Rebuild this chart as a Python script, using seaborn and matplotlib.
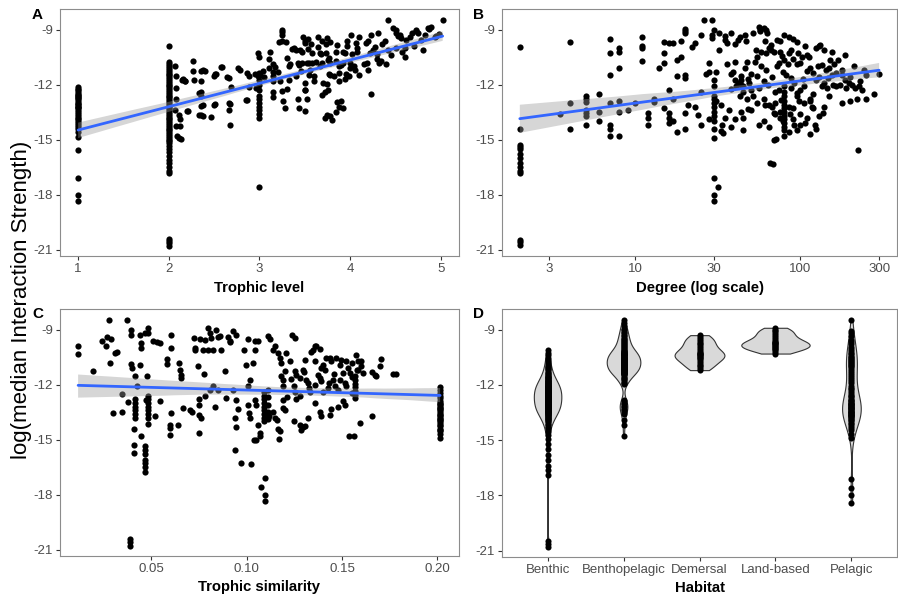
import matplotlib
matplotlib.use("Agg")
import matplotlib.pyplot as plt
from matplotlib.collections import PolyCollection
from matplotlib.ticker import NullLocator
import numpy as np
import pandas as pd
import seaborn as sns

# ---------------- DATA ----------------
# Panel A: trophic level vs log(median interaction strength)
tl1_strength = [-12.15, -12.25, -12.3, -12.4, -12.5, -12.55, -12.6, -12.7, -12.75, -12.8, -12.9,
                -13.0, -13.05, -13.1, -13.2, -13.25, -13.3, -13.4, -13.5, -13.6, -13.7, -13.8,
                -13.9, -14.0, -14.1, -14.2, -14.3, -14.45, -14.6, -14.85, -15.55, -17.1, -18.0,
                -18.35]
tl2_strength = [-9.9, -10.75, -10.9, -11.0, -11.1, -11.2, -11.3, -11.4, -11.5, -11.6, -11.7, -11.8,
                -11.9, -12.0, -12.1, -12.2, -12.3, -12.4, -12.5, -12.6, -12.7, -12.8, -12.9, -13.0,
                -13.1, -13.2, -13.3, -13.4, -13.5, -13.6, -13.7, -13.8, -13.9, -14.0, -14.1, -14.2,
                -14.3, -14.4, -14.5, -14.6, -14.7, -14.8, -14.9, -15.0, -15.1, -15.2, -15.35, -15.5,
                -15.7, -15.9, -16.1, -16.3, -16.5, -16.7, -16.85, -20.45, -20.55, -20.65, -20.8]
tl3_strength = [-11.74, -12.0, -12.3, -12.6, -12.8, -13.0, -13.2, -13.4, -13.6, -13.8, -17.59]
tl_other = [
    (2.07, -10.98), (2.08, -11.52), (2.08, -12.19), (2.08, -12.79), (2.07, -13.37), (2.11, -13.64),
    (2.12, -13.9), (2.08, -14.27), (2.12, -14.27), (2.09, -14.8), (2.13, -14.95), (2.14, -11.74),
    (2.18, -11.8), (2.21, -13.46), (2.16, -11.72), (2.27, -10.69), (2.27, -11.28), (2.28, -11.77),
    (2.33, -12.46), (2.36, -12.64), (2.36, -11.25), (2.4, -11.25), (2.36, -11.83), (2.36, -13.19),
    (2.36, -13.64), (2.38, -13.73), (2.47, -13.77), (2.5, -11.55), (2.52, -11.41), (2.5, -13.1),
    (2.57, -11.07), (2.64, -11.6), (2.66, -11.65), (2.66, -13.0), (2.66, -13.37), (2.67, -14.18),
    (2.69, -12.14), (2.76, -11.1), (2.79, -11.19), (2.86, -11.37), (2.88, -11.52), (2.86, -12.82),
    (2.88, -12.15), (2.98, -10.3), (2.99, -10.48), (2.98, -11.55), (3.0, -11.37), (3.04, -11.28),
    (2.38, -11.19), (2.59, -11.07), (2.51, -11.4), (2.18, -11.83), (2.35, -12.4), (2.38, -13.13),
    (2.51, -13.08), (2.67, -13.06), (2.33, -13.64), (2.2, -13.46), (2.11, -14.9), (2.85, -12.82),
    (2.95, -11.4), (2.96, -12.2), (3.01, -11.46), (3.05, -11.6),
    (3.1, -11.1), (3.15, -10.9), (3.17, -11.05), (3.15, -11.3), (3.15, -11.55), (3.15, -11.8),
    (3.15, -12.4), (3.15, -12.7), (3.25, -9.0), (3.25, -9.15), (3.25, -9.3), (3.22, -9.7),
    (3.25, -9.65), (3.29, -9.7), (3.23, -11.8), (3.25, -12.37), (3.26, -12.9), (3.28, -13.3),
    (3.3, -12.25), (3.32, -11.75), (3.33, -11.0), (3.38, -10.0), (3.4, -11.55), (3.42, -10.8),
    (3.44, -10.95), (3.42, -12.8), (3.44, -13.28), (3.45, -10.1), (3.46, -11.28), (3.48, -9.4),
    (3.5, -9.75), (3.5, -12.28), (3.5, -13.46), (3.52, -12.8), (3.53, -9.5), (3.55, -10.83),
    (3.58, -10.3), (3.6, -11.55), (3.65, -9.38), (3.65, -9.93), (3.67, -10.3), (3.67, -11.0),
    (3.69, -12.55), (3.7, -11.92), (3.72, -13.82), (3.74, -13.64), (3.74, -9.47), (3.76, -10.65),
    (3.78, -11.46), (3.86, -9.83), (3.88, -11.83), (3.9, -12.9), (3.92, -13.3), (3.9, -10.92),
    (3.94, -10.29), (3.97, -9.92), (3.99, -11.56), (4.01, -9.3), (4.05, -11.2), (4.08, -10.2),
    (4.1, -9.38), (4.17, -9.74), (4.23, -9.3), (4.23, -12.5), (4.25, -10.1), (4.31, -9.2),
    (4.34, -10.74), (4.38, -9.65), (4.42, -8.5), (4.42, -10.1), (4.47, -8.93), (4.51, -9.2),
    (4.55, -9.3), (4.57, -10.2), (4.62, -9.56), (4.68, -9.2), (4.73, -9.1), (4.78, -9.56),
    (4.86, -8.93), (4.93, -9.38), (5.02, -8.47),
    (3.36, -10.05), (3.4, -10.1), (3.47, -10.2), (3.53, -10.05), (3.34, -10.9), (3.47, -10.8),
    (3.52, -10.85), (3.58, -10.8), (3.62, -10.75), (3.5, -9.6), (3.57, -9.8), (3.55, -11.5),
    (3.56, -11.2), (3.5, -11.9), (3.5, -12.3), (3.6, -11.8), (3.69, -9.6), (3.73, -9.8),
    (3.78, -9.7), (3.68, -10.35), (3.73, -10.3), (3.77, -10.55), (3.84, -10.2), (3.92, -10.2),
    (3.69, -10.85), (3.78, -10.85), (3.84, -10.7), (3.88, -11.0), (3.92, -10.85), (3.77, -11.4),
    (3.82, -11.55), (3.88, -11.35), (3.94, -11.7), (3.74, -11.95), (3.75, -12.3), (3.72, -12.4),
    (3.86, -12.95), (3.88, -13.2), (3.84, -13.5), (3.78, -13.7), (3.8, -13.95), (3.97, -9.6),
    (4.06, -9.75), (4.08, -10.0), (4.02, -10.35), (4.0, -10.8), (4.04, -11.0), (4.0, -11.1),
    (3.95, -11.45), (4.2, -9.6), (4.27, -9.95), (4.22, -10.3), (4.19, -10.8), (4.3, -10.35),
    (4.32, -10.8), (4.35, -9.8), (4.5, -9.0), (4.53, -9.35), (4.56, -9.45), (4.6, -10.0),
    (4.66, -9.4), (4.73, -9.0), (4.75, -9.2), (4.82, -9.3), (4.87, -8.95), (4.89, -8.85),
    (4.98, -9.25), (4.95, -9.35), (3.1, -10.6), (3.12, -10.2), (3.2, -11.3), (3.3, -10.55),
    (4.3, -10.6), (4.4, -10.9), (4.45, -10.4), (4.6, -10.5), (4.2, -11.2), (4.1, -11.5),
    (4.15, -10.9), (4.5, -10.0), (4.7, -9.9), (4.8, -10.1)]

# Panel B: degree (log scale) vs strength
degree_points = [
    (2, -9.95), (2, -14.45), (2, -15.3), (2, -15.4), (2, -15.5), (2, -15.8), (2, -16.0), (2, -16.3),
    (2, -16.5), (2, -16.7), (2, -16.8), (2, -20.5), (2, -20.6), (2, -20.75),
    (4, -9.7), (4, -13.0), (5, -12.6), (5, -12.8), (5, -12.95), (5, -13.4), (5, -13.55), (5, -13.7),
    (5, -14.2), (6, -12.5), (6, -13.5), (7, -9.5), (7, -10.3), (7, -11.5), (7, -13.0), (7, -14.2),
    (7, -14.4), (7, -14.8), (8, -10.0), (8, -10.2), (8, -11.1), (8, -12.9), (8, -13.5), (8, -14.8),
    (10, -13.0), (11, -9.4), (11, -9.9), (11, -10.0), (11, -10.7), (13, -12.8), (13, -12.95),
    (12, -13.55), (12, -13.8), (14, -11.1), (15, -10.3), (15, -10.8), (15, -9.7), (16, -9.75),
    (16, -12.3), (16, -13.55), (16, -14.1), (16, -13.8), (17, -12.8), (17, -9.75), (18, -11.55),
    (18, -14.6), (18, -10.65), (19, -9.6), (19, -10.5), (20, -13.55), (20, -11.5), (20, -11.65),
    (20, -8.95), (20, -9.1), (20, -9.2), (21, -13.1), (22, -9.93), (23, -9.75), (23, -13.2),
    (24, -13.65), (25, -12.4), (26, -8.5), (25, -9.3), (27, -11.45), (28, -10.85), (28, -11.3),
    (29, -8.5), (29, -9.3), (29, -9.45), (30, -9.0), (30, -12.6), (30, -12.8), (30, -13.0),
    (30, -13.2), (30, -13.5), (30, -13.7), (30, -14.4), (30, -14.9), (30, -17.1), (30, -18.0),
    (30, -18.35), (31.5, -17.6), (31, -11.3), (30, -11.75), (30, -12.1), (31, -12.9), (32, -9.2),
    (32, -10.1), (33, -14.55), (34, -14.65), (33.5, -14.2), (33, -13.1), (35, -9.35), (35, -9.55),
    (36, -9.75), (37, -13.37), (38, -11.4), (38, -12.25), (40, -10.75), (40, -11.75), (41, -12.1),
    (42, -9.55), (43, -12.65), (43, -9.4), (44, -13.5), (45, -13.8), (44, -11.55), (44, -11.75),
    (44, -12.0), (45, -12.1), (46, -11.1), (46, -9.3), (47.6, -12.8), (47.6, -10.75), (48, -13.36),
    (49, -11.9), (50, -11.45), (52, -9.2), (53, -10.75), (54, -10.1), (56, -14.2), (55, -11.55),
    (56, -12.2), (56, -8.85), (57, -9.0), (57, -9.1), (58, -10.2), (60, -12.8), (61, -13.1),
    (61, -9.65), (62, -11.2), (63, -9.2), (64, -12.0), (66, -9.83), (66, -10.1), (67, -13.2),
    (69, -13.55), (69, -15.0), (71, -14.95), (65.5, -16.3), (68, -16.35), (69, -10.2), (72, -9.55),
    (74, -10.83), (74, -12.28), (75, -13.82), (76, -12.82), (77, -10.45), (80, -10.65),
    (80, -12.1), (80, -12.4), (80, -12.6), (80, -12.9), (80, -13.1), (80, -13.3), (80, -13.5),
    (80, -13.7), (80, -13.9), (80, -14.1), (80, -14.3), (80, -14.5), (80, -14.8),
    (80, -9.3), (85, -9.4), (82, -11.47), (85, -13.2), (87, -13.6), (88, -11.65), (88, -10.1),
    (92, -14.2), (95, -12.46), (100, -10.83), (102, -10.5), (105, -12.1), (107, -9.92),
    (107, -14.1), (110, -11.28), (114, -12.8), (115, -14.7), (117, -13.2), (120, -11.37),
    (125, -11.73), (122, -14.2), (125, -14.4), (132, -9.83), (135, -10.92), (135, -12.1),
    (137, -13.55), (140, -10.1), (144, -11.2), (148, -11.65), (152, -10.65), (157, -12.0),
    (165, -11.37), (170, -10.65), (178, -11.46), (186, -11.75), (187, -10.38), (198, -11.92),
    (210, -11.0), (219, -12.8), (223, -15.58), (228, -12.1), (242, -11.2), (300, -11.4),
    (36, -10.9), (39, -11.3), (42, -11.9), (45, -12.4), (48, -11.7), (50, -12.3), (52, -12.6),
    (55, -10.5), (58, -11.0), (60, -11.8), (62, -10.3), (65, -10.0), (67, -11.6), (70, -12.4),
    (72, -11.0), (75, -10.2), (78, -11.3), (84, -10.9), (90, -10.6), (92, -11.9), (95, -10.9),
    (98, -12.9), (100, -12.3), (104, -11.7), (110, -10.4), (115, -11.1), (120, -12.5),
    (128, -11.0), (130, -11.6), (140, -11.9), (145, -12.2), (150, -11.1), (155, -11.5),
    (160, -10.9), (165, -12.1), (175, -12.0), (180, -11.2), (190, -12.2), (200, -11.6),
    (205, -12.0), (215, -12.2), (235, -12.3), (250, -11.5), (230, -11.8), (95, -12.6),
    (88, -12.2), (70, -13.0), (65, -13.1), (75, -13.5), (90, -13.9), (100, -14.2), (95, -14.5),
    (110, -13.8), (130, -13.7), (120, -13.3), (38, -9.2), (40, -9.8), (47, -9.6), (60, -8.9),
    (62, -9.05), (75, -9.6), (85, -10.3), (90, -9.5), (95, -9.7), (97, -10.3), (113, -10.5),
    (125, -10.0), (130, -9.9), (155, -10.2),
    (15, -13.3), (17, -14.0), (20, -14.4), (12, -14.2), (9, -13.4), (6, -14.0), (4, -14.4),
    (3.5, -13.6), (40, -13.9), (50, -13.4), (55, -13.0), (60, -14.0), (65, -14.3), (78, -14.0),
    (85, -14.6), (100, -13.6), (105, -13.0), (115, -12.9), (140, -13.2), (150, -12.6),
    (35, -13.8), (28, -13.9), (25, -14.2), (45, -14.5), (90, -13.3), (70, -13.6),
    (250, -12.8), (280, -12.5), (180, -13.0), (200, -12.9), (30, -14.0), (38, -14.3)]

# Panel C: trophic similarity vs strength
similarity_points = [
    (0.0115, -9.92), (0.0115, -10.32), (0.0194, -11.25), (0.024, -9.65), (0.026, -9.92),
    (0.0265, -9.38), (0.029, -9.53), (0.0277, -8.5), (0.028, -10.83), (0.031, -10.29),
    (0.032, -10.25), (0.030, -13.55), (0.0348, -13.5), (0.0348, -12.5), (0.0369, -8.47),
    (0.0378, -12.97), (0.0386, -20.43), (0.0386, -20.6), (0.0386, -20.8), (0.039, -9.0),
    (0.0393, -9.3), (0.0395, -10.9), (0.040, -11.1), (0.0413, -11.55),
    (0.0413, -12.8), (0.0413, -13.0), (0.0413, -13.2), (0.0413, -13.4), (0.0413, -13.6),
    (0.0413, -13.8), (0.041, -14.45), (0.041, -15.27), (0.041, -15.76), (0.0425, -12.06),
    (0.044, -9.3), (0.0445, -9.74), (0.0445, -10.0), (0.044, -10.93), (0.0443, -14.82),
    (0.0465, -9.2), (0.048, -9.2), (0.048, -8.93), (0.0474, -11.55), (0.047, -12.82),
    (0.0468, -15.36), (0.0468, -15.55), (0.0468, -15.8), (0.0468, -16.1), (0.0468, -16.3),
    (0.0468, -16.5), (0.0468, -16.75),
    (0.0483, -12.6), (0.0483, -12.8), (0.0483, -13.0), (0.0483, -13.2), (0.0483, -13.4),
    (0.0483, -13.6), (0.0483, -13.85), (0.0483, -14.15),
    (0.051, -9.65), (0.0527, -9.7), (0.0544, -9.74), (0.0518, -13.7), (0.0544, -12.92),
    (0.058, -10.6), (0.0583, -10.87), (0.0602, -9.3), (0.0602, -10.0), (0.060, -13.55),
    (0.0597, -14.2), (0.0597, -14.37), (0.0597, -14.73), (0.0642, -10.8), (0.0649, -11.2),
    (0.0653, -11.5), (0.0653, -11.65), (0.0637, -14.2), (0.0663, -13.3), (0.0702, -13.37),
    (0.0711, -13.5), (0.0725, -9.48), (0.073, -10.0), (0.073, -10.14), (0.0745, -11.01),
    (0.0748, -12.8), (0.0748, -13.1), (0.0748, -13.64), (0.0748, -14.63), (0.0762, -13.82),
    (0.0775, -11.4), (0.078, -12.64), (0.0753, -9.5), (0.078, -9.56), (0.077, -10.1),
    (0.0797, -8.9), (0.0806, -9.2), (0.0815, -9.47), (0.0797, -10.1), (0.0823, -10.14),
    (0.0806, -12.28), (0.0823, -12.1), (0.0832, -13.2), (0.0841, -9.0), (0.085, -9.38),
    (0.085, -12.28), (0.0858, -9.35), (0.0867, -10.1), (0.0885, -11.28), (0.0893, -12.73),
    (0.0902, -9.38), (0.091, -9.65), (0.0914, -9.7), (0.0928, -9.1), (0.0942, -9.3),
    (0.0928, -12.28), (0.0946, -12.82), (0.0937, -13.82), (0.0946, -14.33), (0.0937, -15.55),
    (0.0955, -13.33), (0.097, -16.26), (0.102, -16.33), (0.0988, -10.1), (0.0998, -10.92),
    (0.1007, -9.53), (0.1007, -13.1), (0.1012, -13.55), (0.1016, -13.8), (0.1005, -12.1),
    (0.1016, -11.74), (0.1033, -10.83), (0.1042, -9.65), (0.106, -9.65), (0.1042, -12.82),
    (0.1051, -13.1), (0.1042, -10.1), (0.1058, -14.18), (0.1068, -14.63), (0.1072, -14.82),
    (0.104, -15.0), (0.1049, -15.0), (0.1077, -17.57), (0.1094, -17.12), (0.1098, -18.0),
    (0.1098, -18.35),
    (0.109, -12.4), (0.109, -12.6), (0.109, -12.8), (0.109, -13.0), (0.109, -13.2),
    (0.109, -13.4), (0.109, -13.6), (0.109, -13.8), (0.109, -14.0),
    (0.111, -12.3), (0.111, -12.7), (0.111, -13.1), (0.111, -13.5), (0.111, -13.9),
    (0.1112, -9.35), (0.1121, -9.53), (0.1138, -10.1), (0.1147, -9.92), (0.1103, -13.55),
    (0.1117, -13.73), (0.1138, -13.5), (0.1147, -13.8), (0.1159, -13.95), (0.1165, -14.4),
    (0.1173, -14.55), (0.117, -14.95), (0.1165, -10.29), (0.1177, -10.56), (0.1182, -10.83),
    (0.1182, -11.55), (0.1191, -11.74), (0.1191, -12.1), (0.1191, -12.82), (0.1191, -13.28),
    (0.12, -13.37), (0.12, -11.28), (0.1208, -10.29), (0.1226, -10.74), (0.124, -9.3),
    (0.1252, -9.47), (0.1247, -14.0), (0.1252, -11.28), (0.1256, -11.46), (0.1252, -12.4),
    (0.126, -12.78), (0.1278, -11.65), (0.1278, -14.18), (0.1296, -14.33), (0.1287, -14.5),
    (0.1296, -11.2), (0.1304, -10.65), (0.1308, -14.25), (0.1313, -11.74), (0.1322, -11.9),
    (0.1322, -13.82), (0.1327, -12.2), (0.1339, -10.2), (0.1348, -10.1), (0.1357, -9.92),
    (0.1366, -9.92), (0.1357, -13.0), (0.1357, -10.74), (0.1374, -11.46), (0.1383, -11.64),
    (0.1392, -11.83), (0.1383, -13.5), (0.1392, -13.7), (0.1383, -10.07), (0.14, -10.92),
    (0.1409, -11.2), (0.1418, -10.56), (0.1427, -12.2), (0.1435, -10.56), (0.1444, -10.74),
    (0.1444, -13.33), (0.1435, -13.64), (0.1453, -11.74), (0.1462, -12.1), (0.1467, -10.56),
    (0.1479, -13.2), (0.1488, -10.92), (0.1488, -11.74), (0.1497, -10.65), (0.1506, -12.92),
    (0.1506, -11.37), (0.1514, -11.92), (0.1514, -13.1), (0.1523, -10.74), (0.1532, -11.1),
    (0.1541, -11.37), (0.1535, -14.78), (0.1565, -14.78), (0.155, -10.83),
    (0.157, -11.55), (0.157, -11.75), (0.157, -11.95), (0.157, -12.15), (0.157, -12.35),
    (0.157, -12.55), (0.157, -12.75),
    (0.1576, -10.38), (0.1584, -10.74), (0.1584, -11.2), (0.1593, -14.1), (0.1602, -10.74),
    (0.1611, -11.37), (0.1655, -13.7), (0.1655, -11.3), (0.1672, -11.46), (0.1681, -11.55),
    (0.1698, -11.0), (0.1706, -10.61), (0.1767, -11.4), (0.1785, -11.4),
    (0.2015, -12.14), (0.2015, -12.3), (0.2015, -12.45), (0.2015, -12.6), (0.2015, -12.75),
    (0.2015, -12.9), (0.2015, -13.05), (0.2015, -13.2), (0.2015, -13.35), (0.2015, -13.5),
    (0.2015, -13.65), (0.2015, -13.8), (0.2015, -13.95), (0.2015, -14.1), (0.2015, -14.25),
    (0.2015, -14.4), (0.2015, -14.55), (0.2015, -14.7), (0.2015, -14.9),
    (0.2015, -13.0), (0.2015, -13.3), (0.2015, -13.6), (0.2015, -13.9), (0.2015, -14.2),
    (0.2015, -14.5), (0.2015, -13.1), (0.2015, -13.4), (0.2015, -13.7), (0.2015, -14.0),
    (0.125, -12.1), (0.128, -12.6), (0.133, -12.4), (0.136, -12.0), (0.14, -12.4),
    (0.143, -11.9), (0.148, -12.3), (0.152, -12.1), (0.155, -11.6), (0.16, -11.0),
    (0.155, -12.45), (0.158, -11.2), (0.146, -11.4), (0.139, -11.1), (0.13, -11.3),
    (0.123, -11.7), (0.121, -12.7)]

# Panel D: habitat groups
habitats = ["Benthic", "Benthopelagic", "Demersal", "Land-based", "Pelagic"]
benthic = [-10.1, -10.25, -10.4, -10.55, -10.65, -10.75, -10.85, -10.95,
           -11.03, -11.1, -11.16, -11.22, -11.28, -11.35, -11.41, -11.47,
           -11.52, -11.56, -11.6, -11.63, -11.67, -11.71, -11.75, -11.79, -11.83, -11.87, -11.9,
           -11.94, -11.98, -11.65, -11.8, -11.9,
           -12.02, -12.05, -12.08, -12.11, -12.14, -12.17, -12.2, -12.23, -12.26, -12.29, -12.32,
           -12.35, -12.38, -12.41, -12.44, -12.47,
           -12.0, -12.1, -12.2, -12.3, -12.4, -12.05, -12.15, -12.25, -12.35, -12.45,
           -12.52, -12.55, -12.58, -12.61, -12.64, -12.67, -12.7, -12.73, -12.76, -12.79, -12.82,
           -12.85, -12.88, -12.91, -12.94, -12.97,
           -12.5, -12.6, -12.7, -12.8, -12.9, -12.55, -12.65, -12.75, -12.85, -12.95,
           -13.02, -13.05, -13.08, -13.12, -13.15, -13.18, -13.22, -13.25, -13.28, -13.32, -13.35,
           -13.38, -13.42, -13.45, -13.48,
           -13.0, -13.1, -13.2, -13.3, -13.4, -13.05, -13.15, -13.25, -13.35, -13.45,
           -13.52, -13.56, -13.61, -13.65, -13.7, -13.74, -13.79, -13.83, -13.88, -13.92, -13.97,
           -13.55, -13.65, -13.75,
           -14.04, -14.12, -14.2, -14.28, -14.36, -14.44, -14.58, -14.75, -14.92,
           -15.2, -15.5, -15.8, -16.1, -16.4, -16.65, -16.9, -20.5, -20.65, -20.8]
benthopelagic = [-8.5, -8.65, -8.8, -8.95, -9.04, -9.12, -9.2, -9.28, -9.36, -9.44,
                 -9.52, -9.57, -9.62, -9.67, -9.72, -9.78, -9.84, -9.9, -9.96,
                 -10.02, -10.06, -10.1, -10.14, -10.18, -10.22, -10.26, -10.3, -10.34, -10.38,
                 -10.42, -10.46, -10.52, -10.56, -10.6, -10.63, -10.67, -10.7, -10.74, -10.78,
                 -10.81, -10.85, -10.88, -10.92, -10.96, -11.02, -11.06, -11.1, -11.14, -11.18,
                 -11.22, -11.26, -11.3, -11.34, -11.38, -11.42, -11.47, -11.55, -11.62, -11.69,
                 -11.76, -11.83, -11.9, -11.95,
                 -10.2, -10.3, -10.4, -10.5, -10.6, -10.7, -10.8, -10.9, -11.0, -11.1, -11.2,
                 -11.3, -11.4, -10.25, -10.35, -10.45, -10.55, -10.65, -10.75, -10.85, -10.95,
                 -11.05, -11.15, -11.25, -11.35,
                 -12.8, -12.9, -12.97, -13.05, -13.15, -13.22,
                 -13.3, -13.38, -13.46, -13.6, -13.9, -14.2, -14.8]
demersal = [-9.3, -9.4, -9.5, -9.6, -9.7, -9.8, -9.9, -10.0, -10.1, -10.2, -10.25, -10.3, -10.35,
            -10.4, -10.45, -10.5, -10.55, -10.6, -10.7, -10.8, -10.9, -11.0, -11.1, -11.2]
land_based = [-8.9, -9.0, -9.1, -9.2, -9.3, -9.4, -9.5, -9.6, -9.65, -9.7, -9.75, -9.8, -9.85,
              -9.9, -9.95, -10.0, -10.05, -10.1, -10.2, -10.3]
pelagic = [-8.5, -9.05, -9.2, -9.35, -9.55, -9.68, -9.8, -9.92,
           -10.05, -10.15, -10.25, -10.35, -10.45, -10.54, -10.62, -10.7, -10.78, -10.86, -10.94,
           -10.5, -10.65, -10.8, -10.95,
           -11.05, -11.15, -11.25, -11.35, -11.45, -11.56, -11.68, -11.8, -11.92,
           -12.05, -12.15, -12.25, -12.35, -12.45, -12.54, -12.61, -12.68, -12.75, -12.82, -12.89,
           -12.96, -13.03, -13.09, -13.15, -13.21, -13.27, -13.33, -13.39, -13.45,
           -13.0, -13.1, -13.2, -13.3, -13.4, -13.5, -13.6, -13.7, -13.8, -12.9, -13.05, -13.25,
           -13.45, -13.65,
           -13.53, -13.59, -13.65, -13.71, -13.77, -13.83, -13.89, -13.95,
           -14.05, -14.15, -14.25, -14.35, -14.45, -14.65, -14.9, -17.1, -17.6, -18.0, -18.4]

y_ticks = [-9, -12, -15, -18, -21]
y_label = "log(median Interaction Strength)"

# ---------------- TABLES ----------------
df_a = pd.DataFrame(
    [(1.0, v) for v in tl1_strength] + [(2.0, v) for v in tl2_strength]
    + [(3.0, v) for v in tl3_strength] + tl_other, columns=["tl", "s"])
df_b = pd.DataFrame(degree_points, columns=["deg", "s"])
df_c = pd.DataFrame(similarity_points, columns=["sim", "s"])
groups = [benthic, benthopelagic, demersal, land_based, pelagic]
df_d = pd.DataFrame([(h, v) for h, g in zip(habitats, groups) for v in g], columns=["hab", "s"])


def nrd0_factor(kde):
    """R's default bandwidth (bw.nrd0) expressed as a scipy KDE factor."""
    x = np.asarray(kde.dataset).ravel()
    sd = x.std(ddof=1)
    q75, q25 = np.percentile(x, [75, 25])
    lo = min(sd, (q75 - q25) / 1.34)
    bw = 0.9 * lo * len(x) ** (-0.2)
    return bw / sd


# ---------------- STYLE ----------------
sns.set_theme(style="white")
plt.rcParams["font.family"] = ["Liberation Sans", "DejaVu Sans"]
plt.rcParams["axes.unicode_minus"] = False

GREY_TXT = "#4D4D4D"
SPINE = "#8C8C8C"
POINT_S = 20
LINE_KW = dict(color="#3366FF", lw=2.0, zorder=4)
SCAT_KW = dict(s=POINT_S, color="black", linewidths=0, alpha=1, zorder=2)

fig = plt.figure(figsize=(8.98, 5.99), dpi=100)
W = 898.0
H = 599.0
ax_a = fig.add_axes([60 / W, 1 - 256 / H, 399 / W, 247 / H])
ax_b = fig.add_axes([502 / W, 1 - 256 / H, 395 / W, 247 / H])
ax_c = fig.add_axes([60 / W, 1 - 556 / H, 399 / W, 247 / H])
ax_d = fig.add_axes([502 / W, 1 - 557 / H, 395 / W, 248 / H])


def style_axes(ax, xlabel):
    for sp in ax.spines.values():
        sp.set_visible(True)
        sp.set_color(SPINE)
        sp.set_linewidth(0.8)
    ax.tick_params(axis="both", which="major", bottom=True, left=True, top=False, right=False,
                   direction="out", length=3, width=0.8, color="#333333",
                   labelcolor=GREY_TXT, labelsize=9.5, pad=2)
    ax.set_xlabel(xlabel, fontsize=10.7, fontweight="bold", color="black", labelpad=4)
    ax.set_ylabel("")
    ax.set_yticks(y_ticks)
    ax.set_ylim(-21.35, -7.88)
    ax.grid(False)


def fix_band(ax):
    for c in ax.collections:
        if isinstance(c, PolyCollection):
            c.set_facecolor("#999999")
            c.set_alpha(0.4)
            c.set_edgecolor("none")
            c.set_zorder(3)


# Panel A
sns.regplot(data=df_a, x="tl", y="s", ax=ax_a, ci=95, n_boot=500, seed=1,
            scatter_kws=SCAT_KW, line_kws=LINE_KW, truncate=True)
fix_band(ax_a)
ax_a.set_xlim(0.8, 5.2)
ax_a.set_xticks([1, 2, 3, 4, 5])
style_axes(ax_a, "Trophic level")

# Panel B
sns.regplot(data=df_b, x="deg", y="s", ax=ax_b, ci=95, n_boot=500, seed=1, logx=True,
            scatter_kws=SCAT_KW, line_kws=LINE_KW, truncate=True)
fix_band(ax_b)
ax_b.set_xscale("log")
ax_b.set_xlim(1.56, 385)
ax_b.set_xticks([3, 10, 30, 100, 300])
ax_b.set_xticklabels(["3", "10", "30", "100", "300"])
ax_b.xaxis.set_minor_locator(NullLocator())
style_axes(ax_b, "Degree (log scale)")

# Panel C
sns.regplot(data=df_c, x="sim", y="s", ax=ax_c, ci=95, n_boot=500, seed=1,
            scatter_kws=SCAT_KW, line_kws=LINE_KW, truncate=True)
fix_band(ax_c)
ax_c.set_xlim(0.002, 0.2114)
ax_c.set_xticks([0.05, 0.10, 0.15, 0.20])
ax_c.set_xticklabels(["0.05", "0.10", "0.15", "0.20"])
style_axes(ax_c, "Trophic similarity")

# Panel D
sns.violinplot(data=df_d, x="hab", y="s", order=habitats, ax=ax_d, density_norm="area",
               cut=0, inner=None, color="#D9D9D9", saturation=1, linecolor="#333333",
               linewidth=0.8, bw_method=nrd0_factor, width=0.9)
sns.stripplot(data=df_d, x="hab", y="s", order=habitats, ax=ax_d, jitter=False,
              color="black", size=4.4, linewidth=0, zorder=5)
ax_d.set_xlim(-0.6, 4.6)
style_axes(ax_d, "Habitat")

# shared y label and panel tags
fig.text(22 / W, 0.5, y_label, rotation=90, ha="center", va="center", fontsize=16,
         color="black")
for tag, (px, py) in zip("ABCD", [(32, 15), (473, 15), (32, 314), (473, 314)]):
    fig.text(px / W, 1 - py / H, tag, fontsize=11, fontweight="bold", ha="left",
             va="center", color="black")

fig.savefig("out.png", dpi=100)
